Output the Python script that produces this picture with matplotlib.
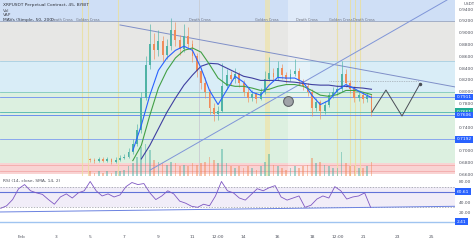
import numpy as np
import matplotlib.pyplot as plt
from matplotlib.transforms import blended_transform_factory

# ---- price data: 6h candles, x in days of February ----
days = np.arange(5.0, 21.51, 0.25)
close = [0.684, 0.682, 0.686, 0.683, 0.685, 0.681, 0.684, 0.687, 0.690,
         0.698, 0.712, 0.735, 0.790, 0.845, 0.880, 0.870, 0.885, 0.862,
         0.878, 0.905, 0.888, 0.872, 0.895, 0.880, 0.860, 0.835, 0.815,
         0.800, 0.772, 0.762, 0.768, 0.810, 0.828, 0.822, 0.830, 0.815,
         0.800, 0.790, 0.796, 0.788, 0.800, 0.822, 0.832, 0.825, 0.840,
         0.828, 0.822, 0.830, 0.835, 0.818, 0.810, 0.800, 0.772, 0.782,
         0.768, 0.778, 0.795, 0.800, 0.805, 0.830, 0.815, 0.805, 0.790,
         0.795, 0.788, 0.793, 0.765]
high = [0.688, 0.687, 0.690, 0.689, 0.690, 0.688, 0.689, 0.692, 0.695,
        0.705, 0.720, 0.745, 0.800, 0.860, 0.915, 0.900, 0.905, 0.895,
        0.890, 0.925, 0.918, 0.896, 0.915, 0.910, 0.888, 0.866, 0.842,
        0.825, 0.805, 0.780, 0.775, 0.848, 0.838, 0.835, 0.840, 0.834,
        0.820, 0.806, 0.802, 0.800, 0.806, 0.835, 0.858, 0.840, 0.852,
        0.846, 0.834, 0.838, 0.855, 0.840, 0.822, 0.815, 0.804, 0.790,
        0.786, 0.784, 0.800, 0.808, 0.812, 0.852, 0.838, 0.820, 0.810,
        0.802, 0.800, 0.798, 0.796]
low = [0.681, 0.679, 0.680, 0.680, 0.681, 0.678, 0.679, 0.682, 0.685,
       0.688, 0.695, 0.708, 0.730, 0.785, 0.838, 0.855, 0.860, 0.850,
       0.855, 0.870, 0.878, 0.862, 0.868, 0.872, 0.850, 0.825, 0.805,
       0.790, 0.762, 0.750, 0.752, 0.765, 0.805, 0.812, 0.815, 0.808,
       0.792, 0.782, 0.784, 0.780, 0.785, 0.796, 0.818, 0.818, 0.820,
       0.822, 0.815, 0.818, 0.826, 0.812, 0.802, 0.792, 0.758, 0.768,
       0.754, 0.762, 0.774, 0.790, 0.795, 0.800, 0.808, 0.798, 0.782,
       0.784, 0.780, 0.782, 0.758]
first_open = 0.685
volume = [3, 2, 3, 2, 3, 2, 3, 3, 4,
          6, 8, 12, 18, 20, 16,
          10, 9, 8, 7, 9, 8, 6, 7, 6, 8,
          7, 8, 9, 12, 10, 8, 17,
          8, 6, 5, 6, 5, 6, 5, 4, 6,
          9, 14, 7, 6, 5, 4, 5, 6,
          5, 6, 7, 11, 8, 9, 7, 6, 5, 5,
          15, 8, 6, 6, 5, 5, 6, 9]

# moving averages (every half day)
ma_fast_days = np.arange(7.5, 21.51, 0.5)
ma_fast = [0.700, 0.743, 0.794, 0.836, 0.857, 0.870, 0.877, 0.870, 0.840,
           0.802, 0.778, 0.802, 0.826, 0.816, 0.799, 0.794, 0.811, 0.824,
           0.823, 0.823, 0.816, 0.794, 0.778, 0.785, 0.802, 0.812, 0.805,
           0.797, 0.790]
ma_mid = [0.683, 0.709, 0.760, 0.806, 0.836, 0.857, 0.870, 0.874, 0.867,
          0.846, 0.823, 0.812, 0.809, 0.809, 0.806, 0.802, 0.804, 0.809,
          0.812, 0.812, 0.809, 0.802, 0.794, 0.792, 0.795, 0.802, 0.802,
          0.799, 0.795]
ma_slow_days = np.arange(8.0, 21.51, 0.5)
ma_slow = [0.686, 0.709, 0.737, 0.765, 0.789, 0.811, 0.828, 0.843, 0.848,
           0.847, 0.840, 0.833, 0.826, 0.823, 0.819, 0.819, 0.819, 0.817,
           0.816, 0.814, 0.812, 0.811, 0.811, 0.809, 0.809, 0.807, 0.806,
           0.804]

# drawings
trend_down = ([6.75, 26.4], [0.913, 0.808])
trend_up = ([8.51, 25.93], [0.667, 0.9553])
projection = ([21.53, 22.35, 23.29, 24.34], [0.7654, 0.8027, 0.7587, 0.8129])
marker_pt = (16.6, 0.784)
level_lines = [0.9204, 0.852, 0.799, 0.7911, 0.7661, 0.7606, 0.7192]
cross_labels = [(3.35, 'Death Cross'), (4.85, 'Golden Cross'), (11.44, 'Death Cross'),
                (15.37, 'Golden Cross'), (17.72, 'Death Cross'),
                (19.7, 'Golden Cross'), (21.05, 'Death Cross')]

# RSI (every 0.35 day)
rsi_days = np.arange(-0.25, 21.56, 0.35)
rsi = [28, 33, 45, 66, 74, 62, 58, 55, 45, 36, 50, 56, 48, 58, 62, 80,
       62, 52, 56, 50, 54, 70, 78, 74, 76, 58, 45, 52, 62, 56, 42, 38,
       32, 30, 36, 33, 52, 80, 62, 58, 48, 44, 55, 66, 62, 68, 72, 50,
       44, 48, 52, 30, 34, 46, 52, 48, 70, 62, 46, 50, 52, 58, 30]
rsi_trend = ([-0.29, 26.4], [21, 32])

price_ticks = [0.66, 0.68, 0.70, 0.74, 0.78, 0.80, 0.82, 0.84, 0.86, 0.88, 0.90, 0.92, 0.94]
time_ticks = [1, 3, 5, 7, 9, 11, 12.5, 14, 16, 18, 19.5, 21, 23, 25]
time_labels = ['Feb', '3', '5', '7', '9', '11', '12:00', '14', '16', '18', '12:00', '21', '23', '25']

XLIM = (-0.29, 26.40)
YLIM = (0.657, 0.9553)
TXT = '#50535e'

fig = plt.figure(figsize=(4.74, 2.42), dpi=100, facecolor='white')
rect = [0, 66 / 242, 455 / 474, 176 / 242]

# --- background zones ---
bg = fig.add_axes(rect)
bg.set_xlim(XLIM)
bg.set_ylim(YLIM)
bg.axis('off')
bg.axhspan(0.9204, 0.97, color='#cfdff6', lw=0)
bg.axhspan(0.852, 0.9204, color='#e7e7e5', lw=0)
bg.axhspan(0.799, 0.852, color='#d9edf7', lw=0)
bg.axhspan(0.679, 0.799, color='#dcf0e0', lw=0)
bg.axhspan(0.660, 0.679, color='#f9d3d3', lw=0)
bg.axhline(0.676, color='#f2aaaa', lw=0.6)
bg.axhline(0.665, color='#f2aaaa', lw=0.6)
bg.axvspan(15.25, 15.55, color='#efe4a8', alpha=0.7, lw=0)
bg.axvspan(16.6, 17.9, color='white', alpha=0.35, lw=0)
for d in [4.52, 4.87, 6.63, 19.47, 20.24, 20.53, 20.82]:
    bg.axvline(d, color='#eadf9c', lw=0.8, alpha=0.8)
bg.axvline(11.38, color='#c9ccd4', lw=0.6)

# --- volume ---
vol = fig.add_axes(rect)
vol.set_xlim(XLIM)
vol.set_ylim(0, 110)
vol.axis('off')
opens = [first_open] + close[:-1]
vcols = ['#4fb3a6' if c >= o else '#f08c5a' for o, c in zip(opens, close)]
vol.bar(days, volume, width=0.1, color=vcols, alpha=0.5, lw=0)

# --- price pane ---
ax = fig.add_axes(rect)
ax.patch.set_visible(False)
ax.set_xlim(XLIM)
ax.set_ylim(YLIM)
for s in ax.spines.values():
    s.set_visible(False)

lvl_cols = ['#97a6c2', '#a9cfe0', '#7fc8bd', '#6f8ff0', '#4db6ac', '#5b7ff0', '#7d9cf0']
for lv, c in zip(level_lines, lvl_cols):
    ax.axhline(lv, color=c, lw=0.6)

ax.plot(*trend_down, color='#7f8fc8', lw=0.7)
ax.plot(*trend_up, color='#7f95d8', lw=0.7)
ax.plot([19.0, 24.3], [0.818, 0.818], color='#8a8d96', lw=0.5, ls=(0, (1, 1.5)))

# candles
ccols = ['#4fb3a6' if c >= o else '#f08c5a' for o, c in zip(opens, close)]
ax.vlines(days, low, high, colors=ccols, lw=0.45, zorder=3)
bodies_lo = np.minimum(opens, close)
bodies_h = np.maximum(np.abs(np.array(close) - np.array(opens)), 0.0015)
ax.bar(days, bodies_h, bottom=bodies_lo, width=0.11, color=ccols, lw=0, zorder=3)

ax.plot(ma_slow_days, ma_slow, color='#3f3fa0', lw=0.8, zorder=4)
ax.plot(ma_fast_days, ma_mid, color='#43a047', lw=0.8, zorder=4)
ax.plot(ma_fast_days, ma_fast, color='#2962ff', lw=0.8, zorder=4)

ax.plot(*projection, color='#4a4d56', lw=0.7, zorder=4)
ax.plot(projection[0][-1], projection[1][-1], 'o', ms=1.5, color='#4a4d56', zorder=5)
ax.plot(*marker_pt, 'o', ms=7, mfc='#a0a3a8', mec='#5f6368', mew=0.8, zorder=5)

for d, t in cross_labels:
    ax.text(d, 0.9215, t, fontsize=2.5, color='#6a6d78', ha='center', va='center')

ax.text(0.006, 1 - 5 / 176, 'XRPUSDT Perpetual Contract, 45, BYBIT', transform=ax.transAxes,
        fontsize=3.2, color='#30333c', va='center')
ax.text(0.006, 1 - 10.5 / 176, 'Vol', transform=ax.transAxes, fontsize=3.2, color=TXT, va='center')
ax.text(0.006, 1 - 15.5 / 176, 'VAP', transform=ax.transAxes, fontsize=3.2, color=TXT, va='center')
ax.text(0.006, 1 - 20.5 / 176, 'MAVs (Simple, 50, 200)', transform=ax.transAxes,
        fontsize=3.2, color='#30333c', va='center')

ax.yaxis.tick_right()
ax.set_yticks(price_ticks)
ax.set_yticklabels([f'{p:.4f}' for p in price_ticks])
ax.tick_params(axis='y', length=0, pad=2.5, labelsize=3.2, labelcolor=TXT)
ax.set_xticks([])
ax.text(1.018, 1 - 4 / 176, 'USDT', transform=ax.transAxes, fontsize=3.0, color=TXT, va='center')

tr = blended_transform_factory(ax.transAxes, ax.transData)
for val, fc in [(0.7911, '#2962ff'), (0.7661, '#22ab94'), (0.7606, '#2962ff'), (0.7192, '#2962ff')]:
    ax.text(1.004, val, f'{val:.4f}', transform=tr, fontsize=3.2, color='white', va='center',
            ha='left', clip_on=False,
            bbox=dict(boxstyle='square,pad=0.3', fc=fc, ec='none'))

# --- RSI pane ---
rax = fig.add_axes([0, 14 / 242, 455 / 474, 52 / 242])
rax.set_xlim(XLIM)
rax.set_ylim(-10, 90.6)
for s in rax.spines.values():
    s.set_visible(False)
rax.axhspan(30, 70, color='#7e57c2', alpha=0.1, lw=0)
rax.axhline(70, color='#9598a1', lw=0.5, ls=(0, (2, 2)))
rax.axhline(30, color='#9598a1', lw=0.5, ls=(0, (2, 2)))
rax.axhline(60.6, color='#6173d8', lw=0.8)
rax.axhline(2.4, color='#9fc4f0', lw=1.0)
rax.plot(*rsi_trend, color='#6b82e0', lw=0.7)
rax.plot(rsi_days, rsi, color='#7e57c2', lw=0.6)
rax.text(0.006, 1 - 5 / 52, 'RSI (14, close, SMA, 14, 2)', transform=rax.transAxes,
         fontsize=3.2, color=TXT, va='center')

rax.yaxis.tick_right()
rax.set_yticks([20, 40, 80])
rax.set_yticklabels(['20.00', '40.00', '80.00'])
rax.tick_params(axis='y', length=0, pad=2.5, labelsize=3.2, labelcolor=TXT)
rtr = blended_transform_factory(rax.transAxes, rax.transData)
for val in [60.61, 2.41]:
    rax.text(1.004, val, f'{val:.2f}', transform=rtr, fontsize=3.2, color='white', va='center',
             ha='left', clip_on=False,
             bbox=dict(boxstyle='square,pad=0.3', fc='#2962ff', ec='none'))

rax.set_xticks(time_ticks)
rax.set_xticklabels(time_labels)
rax.tick_params(axis='x', length=0, pad=5, labelsize=3.2, labelcolor=TXT)

fig.savefig('out.png', dpi=100, facecolor='white')
